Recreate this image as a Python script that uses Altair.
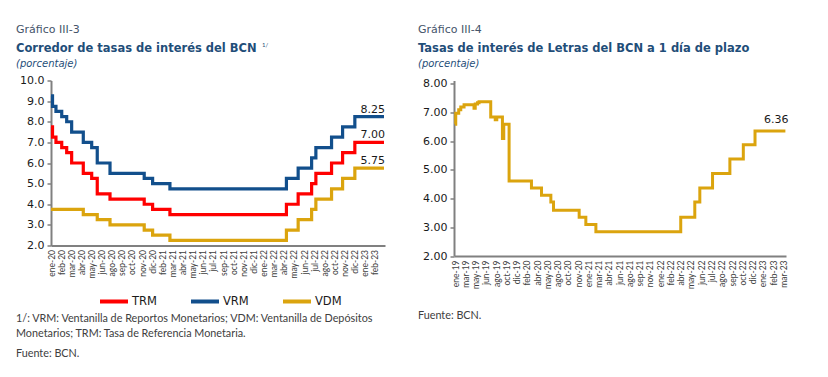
import altair as alt
import pandas as pd

# ---------------- data ----------------
left_labels = ["ene-20", "feb-20", "mar-20", "abr-20", "may-20", "jun-20", "ago-20", "sep-20",
               "oct-20", "nov-20", "dic-20", "feb-21", "mar-21", "abr-21", "may-21", "jun-21",
               "jul-21", "sep-21", "oct-21", "nov-21", "dic-21", "ene-22", "mar-22", "abr-22",
               "may-22", "jun-22", "jul-22", "ago-22", "oct-22", "nov-22", "dic-22", "ene-23",
               "feb-23"]
right_labels = ["ene-19", "mar-19", "may-19", "jun-19", "ago-19", "oct-19", "dic-19", "feb-20",
                "abr-20", "may-20", "ago-20", "oct-20", "nov-20", "ene-21", "mar-21", "abr-21",
                "jun-21", "ago-21", "sep-21", "nov-21", "ene-22", "feb-22", "abr-22", "may-22",
                "jun-22", "jul-22", "ago-22", "sep-22", "oct-22", "dic-22", "ene-23", "feb-23",
                "mar-23"]

# breakpoints (position on the tick-label index axis) of the step series
corr_pos = [0, 0.15, 0.49, 1.06, 1.55, 2.04, 3.19, 4.02, 4.57, 5.83, 9.21, 10.04, 11.75,
            23.26, 24.42, 25.75, 26.17, 27.72, 28.81, 30.02, 32.9]
trm = [7.75, 7.25, 7.0, 6.75, 6.5, 6.0, 5.5, 5.25, 4.5, 4.25, 4.0, 3.75, 3.5,
       4.0, 4.5, 5.0, 5.5, 6.0, 6.5, 7.0, 7.0]
vrm = [9.25, 8.75, 8.5, 8.25, 8.0, 7.5, 7.0, 6.75, 6.0, 5.5, 5.25, 5.0, 4.75,
       5.25, 5.75, 6.25, 6.75, 7.25, 7.75, 8.25, 8.25]
vdm = [3.75, 3.75, 3.75, 3.75, 3.75, 3.75, 3.5, 3.5, 3.25, 3.0, 2.75, 2.5, 2.25,
       2.75, 3.25, 3.75, 4.25, 4.75, 5.25, 5.75, 5.75]

letras_pos = [0, 0.07, 0.36, 0.56, 0.88, 1.85, 1.97, 2.19, 2.34, 3.48, 3.92, 4.07, 4.62, 4.75,
              5.27, 7.45, 8.43, 9.34, 9.6, 12.1, 12.75, 13.73, 22.0, 23.37, 23.86, 25.1,
              26.79, 28.1, 29.24, 32.2]
letras = [6.6, 6.98, 7.1, 7.2, 7.28, 7.15, 7.3, 7.35, 7.38, 6.85, 6.75, 6.85, 6.1, 6.6,
          4.62, 4.37, 4.12, 3.88, 3.6, 3.35, 3.1, 2.85, 3.35, 3.88, 4.37, 4.88, 5.38, 5.88,
          6.36, 6.36]

series_names = ["TRM", "VRM", "VDM"]
series_colors = ["#FF0000", "#124F8C", "#DBA40E"]
gold = "#DBA40E"

rows = []
for name, vals in zip(series_names, [trm, vrm, vdm]):
    for p, v in zip(corr_pos, vals):
        rows.append({"serie": name, "pos": p, "valor": v})
corr_df = pd.DataFrame(rows)
corr_end = corr_df.groupby("serie").tail(1)

letras_df = pd.DataFrame({"pos": letras_pos, "valor": letras})
letras_end = letras_df.tail(1)


def label_expr(labels):
    return "[" + ",".join("'%s'" % l for l in labels) + "][datum.value]"


TXT_FONT = "Lato"
NUM_FONT = "DejaVu Sans"
BLUE_T = "#1F4E79"
GREY_T = "#44546A"


def txt(s, x, y, size, color, weight="normal", style="normal", font=TXT_FONT):
    return alt.Chart(alt.Data(values=[{}])).mark_text(
        text=s, align="left", baseline="alphabetic", font=font, fontSize=size,
        fontWeight=weight, fontStyle=style, color=color
    ).encode(x=alt.value(x), y=alt.value(y))


def x_axis(labels):
    return alt.Axis(values=list(range(len(labels))), labelExpr=label_expr(labels),
                    labelAngle=270, labelFont=TXT_FONT, labelFontSize=8.5,
                    labelColor="#404040", ticks=False, title=None, grid=False,
                    domainColor="#808080", domainWidth=2, labelPadding=4,
                    labelOverlap=False, labelBound=False, labelFlush=False)


def y_axis(vals, fmt):
    return alt.Axis(values=vals, format=fmt, title=None, grid=False,
                    labelFont=NUM_FONT, labelFontSize=11, labelColor="#1a1a1a",
                    domainColor="#808080", domainWidth=2, tickColor="#808080",
                    tickSize=4, tickWidth=1.5, labelPadding=3,
                    labelOverlap=False, labelBound=False, labelFlush=False)


# ---------------- left panel ----------------
W1, H1 = 334, 165
xL = alt.X("pos:Q", scale=alt.Scale(domain=[0, 33], nice=False, zero=False), axis=x_axis(left_labels))
yL = alt.Y("valor:Q", scale=alt.Scale(domain=[2, 10], nice=False, zero=False),
           axis=y_axis([2, 3, 4, 5, 6, 7, 8, 9, 10], ".1f"))

left_lines = alt.Chart(corr_df).mark_line(interpolate="step-after", strokeWidth=3.2).encode(
    x=xL, y=yL,
    color=alt.Color("serie:N", scale=alt.Scale(domain=series_names, range=series_colors),
                    legend=alt.Legend(title=None, orient="none", direction="horizontal",
                                      legendX=47, legendY=205, symbolType="stroke",
                                      symbolSize=784, symbolStrokeWidth=4, labelFont=NUM_FONT,
                                      labelFontSize=11.5, labelColor="#1a1a1a", labelOffset=2,
                                      columnPadding=26, padding=0)),
)
left_end = alt.Chart(corr_end).mark_text(align="right", baseline="alphabetic", dy=-4, dx=1,
                                         font=NUM_FONT, fontSize=11, color="#1a1a1a").encode(
    x=xL, y=yL, text=alt.Text("valor:Q", format=".2f"))

left = alt.layer(
    left_lines, left_end,
    txt("Gráfico III-3", -35, -47.5, 11, GREY_T, font="DejaVu Sans"),
    txt("Corredor de tasas de interés del BCN", -35, -29, 11.5, BLUE_T, weight="bold", font="DejaVu Sans"),
    txt("1/", 211, -34, 6, BLUE_T),
    txt("(porcentaje)", -35, -13.5, 10, BLUE_T, style="italic", font="DejaVu Sans"),
    txt("1/: VRM: Ventanilla de Reportos Monetarios; VDM: Ventanilla de Depósitos", -35, 241.5, 10.8, "#404040"),
    txt("Monetarios; TRM: Tasa de Referencia Monetaria.", -35, 256, 10.8, "#404040"),
    txt("Fuente: BCN.", -35, 276.5, 10.8, "#404040"),
).properties(width=W1, height=H1)

# ---------------- right panel ----------------
W2, H2 = 332, 175.5
xR = alt.X("pos:Q", scale=alt.Scale(domain=[-0.1, 32.26], nice=False, zero=False), axis=x_axis(right_labels))
yR = alt.Y("valor:Q", scale=alt.Scale(domain=[2, 8.122], nice=False, zero=False),
           axis=y_axis([2, 3, 4, 5, 6, 7, 8], ".2f"))

right_line = alt.Chart(letras_df).mark_line(interpolate="step-after", strokeWidth=3, color=gold).encode(
    x=xR, y=yR)
right_end = alt.Chart(letras_end).mark_text(align="right", baseline="alphabetic", dy=-8, dx=3,
                                            font=NUM_FONT, fontSize=11, color="#1a1a1a").encode(
    x=xR, y=yR, text=alt.Text("valor:Q", format=".2f"))

right = alt.layer(
    right_line, right_end,
    txt("Gráfico III-4", -36, -47.5, 11, GREY_T, font="DejaVu Sans"),
    txt("Tasas de interés de Letras del BCN a 1 día de plazo", -36, -29, 11.5, BLUE_T, weight="bold", font="DejaVu Sans"),
    txt("(porcentaje)", -36, -13.5, 10, BLUE_T, style="italic", font="DejaVu Sans"),
    txt("Fuente: BCN.", -36, 238, 10.8, "#404040"),
).properties(width=W2, height=H2)

chart = alt.hconcat(left, right, spacing=27).configure_view(stroke=None).properties(
    padding={"left": 8, "top": 15.5, "right": 0, "bottom": 0})

chart.save("out.html", embed_options={"renderer": "svg", "actions": False})
